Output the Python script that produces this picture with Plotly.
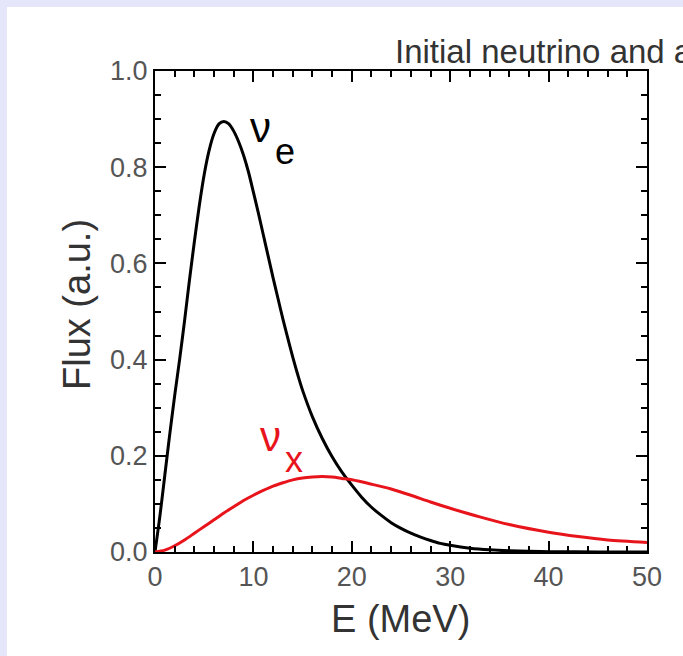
import plotly.graph_objects as go

# ---- data ----
E_nue = [0, 0.5, 1, 1.5, 2, 2.5, 3, 3.5, 4, 4.5, 5, 5.5, 6, 6.5, 7, 7.5, 8, 8.5, 9, 9.5,
         10, 10.5, 11, 11.5, 12, 12.5, 13, 13.5, 14, 14.5, 15, 16, 17, 18, 19, 20, 21, 22,
         23, 24, 25, 26, 27, 28, 29, 30, 32, 34, 36, 38, 40, 45, 50]
F_nue = [0, 0.075, 0.16, 0.245, 0.325, 0.4, 0.48, 0.565, 0.645, 0.72, 0.785, 0.835, 0.87,
         0.89, 0.895, 0.89, 0.875, 0.853, 0.825, 0.79,
         0.748, 0.705, 0.66, 0.615, 0.57, 0.527, 0.484, 0.444, 0.405, 0.369, 0.336, 0.281,
         0.236, 0.198, 0.166, 0.139, 0.114, 0.093, 0.076, 0.061, 0.049, 0.039, 0.031, 0.024,
         0.018, 0.014, 0.008, 0.0045, 0.0025, 0.0013, 0.0007, 0.0002, 0.0]

E_nux = [0, 1, 2, 3, 4, 5, 6, 7, 8, 9, 10, 11, 12, 13, 14, 15, 16, 17, 18, 19, 20, 22, 24,
         26, 28, 30, 33, 36, 40, 43, 46, 50]
F_nux = [0, 0.004, 0.013, 0.025, 0.039, 0.053, 0.067, 0.081, 0.094, 0.107, 0.118, 0.128,
         0.137, 0.144, 0.15, 0.154, 0.156, 0.157, 0.156, 0.153, 0.15, 0.141, 0.131, 0.118,
         0.104, 0.091, 0.073, 0.057, 0.041, 0.032, 0.025, 0.02]

x_ticks = [0, 10, 20, 30, 40, 50]
y_ticks = [0.0, 0.2, 0.4, 0.6, 0.8, 1.0]
y_ticklabels = ["0.0", "0.2", "0.4", "0.6", "0.8", "1.0"]

title_text = "Initial neutrino and antineutrino spectra"
x_title = "E (MeV)"
y_title = "Flux (a.u.)"

# ---- layout geometry (pixels) ----
W, H = 683, 656
L, R, T, B = 155, 647, 71, 552
FONT = "Liberation Sans, Arial, sans-serif"
LAV = "#e6e6fa"
RED = "#e8141c"


def px(x):
    return (x - L) / (R - L)


def py(y):
    return (B - y) / (B - T)


fig = go.Figure()
fig.add_trace(go.Scatter(x=E_nue, y=F_nue, mode="lines",
                         line=dict(color="black", width=3, shape="spline", smoothing=0.8),
                         hoverinfo="skip", showlegend=False))
fig.add_trace(go.Scatter(x=E_nux, y=F_nux, mode="lines",
                         line=dict(color=RED, width=3, shape="spline", smoothing=0.8),
                         hoverinfo="skip", showlegend=False))

axis_common = dict(
    showgrid=False, zeroline=False, showline=True, linecolor="black", linewidth=2,
    mirror="allticks", ticks="inside", ticklen=11, tickwidth=2, tickcolor="black",
    tickfont=dict(family=FONT, size=27, color="#555555"),
)

fig.update_xaxes(range=[0, 50], tickvals=x_ticks, ticktext=[str(v) for v in x_ticks],
                 minor=dict(dtick=2, ticks="inside", ticklen=6, tickwidth=1.5, tickcolor="black"),
                 **axis_common)
fig.update_yaxes(range=[0, 1.0], tickvals=y_ticks, ticktext=y_ticklabels,
                 minor=dict(dtick=0.05, ticks="inside", ticklen=6, tickwidth=1.5, tickcolor="black"),
                 **axis_common)

annotations = [
    dict(text=title_text, x=px(393), y=py(51), xref="paper", yref="paper", xanchor="left", yanchor="middle",
         showarrow=False, font=dict(family=FONT, size=33, color="#333333")),
    dict(text=x_title, x=px(400), y=py(619), xref="paper", yref="paper", xanchor="center", yanchor="middle",
         showarrow=False, font=dict(family=FONT, size=38, color="#333333")),
    dict(text=y_title, x=px(77), y=py(305), xref="paper", yref="paper", xanchor="center", yanchor="middle",
         textangle=-90, showarrow=False, font=dict(family=FONT, size=38, color="#333333")),
    dict(text="ν", x=px(260), y=py(128), xref="paper", yref="paper", xanchor="center", yanchor="middle",
         showarrow=False, font=dict(family=FONT, size=42, color="black")),
    dict(text="e", x=px(285), y=py(152), xref="paper", yref="paper", xanchor="center", yanchor="middle",
         showarrow=False, font=dict(family=FONT, size=36, color="black")),
    dict(text="ν", x=px(270), y=py(437), xref="paper", yref="paper", xanchor="center", yanchor="middle",
         showarrow=False, font=dict(family=FONT, size=42, color=RED)),
    dict(text="x", x=px(294), y=py(459), xref="paper", yref="paper", xanchor="center", yanchor="middle",
         showarrow=False, font=dict(family=FONT, size=36, color=RED)),
]

shapes = [
    dict(type="rect", xref="paper", yref="paper", x0=px(-5), x1=px(7), y0=py(H + 5), y1=py(-5),
         fillcolor=LAV, line=dict(width=0), layer="below"),
    dict(type="rect", xref="paper", yref="paper", x0=px(-5), x1=px(W + 5), y0=py(7), y1=py(-5),
         fillcolor=LAV, line=dict(width=0), layer="below"),
]

fig.update_layout(
    width=W, height=H,
    margin=dict(l=L, r=W - R, t=T, b=H - B, pad=0, autoexpand=False),
    paper_bgcolor="white", plot_bgcolor="white",
    annotations=annotations, shapes=shapes,
    showlegend=False,
)

fig.write_html("out.html", config={"displayModeBar": False},
               post_script="document.body.style.margin='0px';document.body.style.padding='0px';document.body.style.overflow='hidden';")
